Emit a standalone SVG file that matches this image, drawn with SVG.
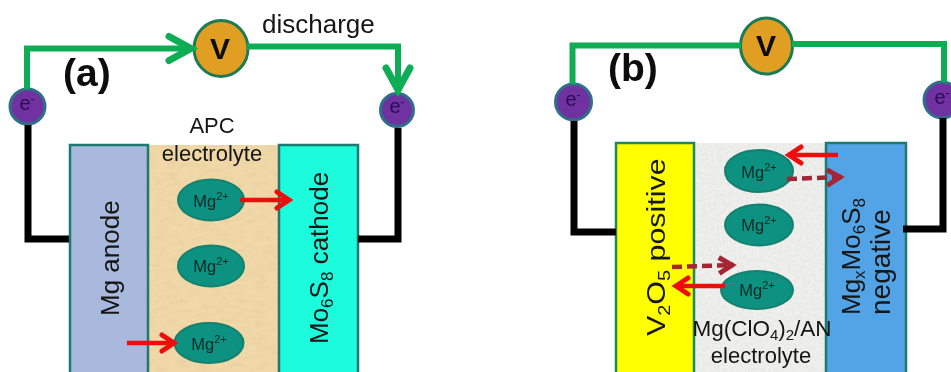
<svg xmlns="http://www.w3.org/2000/svg" width="951" height="372" viewBox="0 0 951 372">
<style>
text{font-family:"Liberation Sans",Arial,sans-serif;fill:#141414}
.pn{stroke:#1f7a70;stroke-width:2.5}
.ion{fill:#0c9180;stroke:#16806f;stroke-width:2}
.ion-t{font-size:16.5px;fill:#062a2a;text-anchor:middle}
.volt{fill:#e09f22;stroke:#1f7a55;stroke-width:3}
.volt-t{font-size:30px;font-weight:bold;fill:#0a0a0a;text-anchor:middle}
.el{fill:#7030a0;stroke:#2f6f8a;stroke-width:3}
.el-t{font-size:20px;fill:#2a0a55;text-anchor:middle}
.lab{font-size:26px}
.lab22{font-size:22px;text-anchor:middle}
.big{font-size:39px;font-weight:bold;fill:#0a0a0a}
.green{fill:none;stroke:#10ad55;stroke-width:6}
.black{fill:none;stroke:#000;stroke-width:7}
.red{fill:none;stroke:#ee1111;stroke-width:4.5}
.dash{fill:none;stroke:#a42636;stroke-width:4.5;stroke-dasharray:10 5}
</style>
<defs>
<filter id="soft" x="0" y="0" width="1" height="1" filterUnits="objectBoundingBox"><feGaussianBlur stdDeviation="0.45"/></filter>
<filter id="paper" x="0" y="0" width="1" height="1">
<feTurbulence type="fractalNoise" baseFrequency="0.09 0.22" numOctaves="3" seed="4" result="n"/>
<feColorMatrix in="n" type="matrix" values="0 0 0 0 0.78 0 0 0 0 0.6 0 0 0 0 0.32 1.3 0 0 0 -0.55" result="c"/>
<feComposite in="c" in2="SourceAlpha" operator="in" result="t"/>
<feMerge><feMergeNode in="SourceGraphic"/><feMergeNode in="t"/></feMerge>
</filter>
<filter id="speck" x="0" y="0" width="1" height="1">
<feTurbulence type="fractalNoise" baseFrequency="0.35" numOctaves="2" seed="9" result="n"/>
<feColorMatrix in="n" type="matrix" values="0 0 0 0 0.72 0 0 0 0 0.72 0 0 0 0 0.72 1.4 0 0 0 -0.6" result="c"/>
<feComposite in="c" in2="SourceAlpha" operator="in" result="t"/>
<feMerge><feMergeNode in="SourceGraphic"/><feMergeNode in="t"/></feMerge>
</filter>
<marker id="gh" markerUnits="userSpaceOnUse" markerWidth="34" markerHeight="34" refX="29" refY="17" orient="auto" overflow="visible">
<path d="M6 5 L28 17 L6 29" fill="none" stroke="#10ad55" stroke-width="7" stroke-linecap="round"/>
</marker>
<marker id="rh" markerUnits="userSpaceOnUse" markerWidth="24" markerHeight="24" refX="18" refY="12" orient="auto" overflow="visible">
<path d="M5 4 L17 12 L5 20" fill="none" stroke="#ee1111" stroke-width="5" stroke-linecap="round"/>
</marker>
<marker id="dh" markerUnits="userSpaceOnUse" markerWidth="24" markerHeight="24" refX="19" refY="12" orient="auto" overflow="visible">
<path d="M4 4 L17 12 L4 20" fill="none" stroke="#a42636" stroke-width="5"/>
</marker>
</defs>
<rect width="951" height="372" fill="#fff"/>
<g id="scene" filter="url(#soft)">
<rect width="951" height="372" fill="#fff"/>
<g id="label-a"><text class="big" x="63" y="86">(a)</text></g>
<g id="label-b"><text class="big" x="608" y="81">(b)</text></g>
<g id="label-discharge"><text x="262" y="33" font-size="26">discharge</text></g>

<g id="a-electrolyte">
<rect x="148" y="145" width="132" height="227" fill="#f0d8a8" filter="url(#paper)"/>
<text class="lab22" x="212" y="133">APC</text>
<text class="lab22" x="212" y="161">electrolyte</text>
</g>
<g id="a-anode">
<rect class="pn" x="70" y="145" width="78" height="229" fill="#a9b9dd"/>
<text class="lab" transform="translate(119,316) rotate(-90)">Mg anode</text>
</g>
<g id="a-cathode">
<rect class="pn" x="279" y="145" width="79" height="229" fill="#1dfbdc"/>
<text class="lab" transform="translate(328,344) rotate(-90)">Mo<tspan font-size="17" dy="5">6</tspan><tspan dy="-5">S</tspan><tspan font-size="17" dy="5">8</tspan><tspan dy="-5"> cathode</tspan></text>
</g>
<g id="a-ion1"><ellipse class="ion" cx="211" cy="200" rx="33" ry="20.5"/><text class="ion-t" x="211" y="207">Mg<tspan font-size="11" dy="-7">2+</tspan></text></g>
<g id="a-ion2"><ellipse class="ion" cx="211" cy="266" rx="33" ry="20.5"/><text class="ion-t" x="211" y="272">Mg<tspan font-size="11" dy="-7">2+</tspan></text></g>
<g id="a-ion3"><ellipse class="ion" cx="209" cy="343" rx="34.500" ry="20"/><text class="ion-t" x="209" y="350">Mg<tspan font-size="11" dy="-7">2+</tspan></text></g>
<g id="a-volt"><ellipse class="volt" cx="221" cy="48.500" rx="27" ry="28"/><text class="volt-t" x="220" y="59">V</text></g>
<g id="a-e-left"><circle class="el" cx="27.500" cy="106.500" r="17.500"/><text class="el-t" x="27" y="110">e<tspan font-size="12" dy="-7">-</tspan></text></g>
<g id="a-e-right"><circle class="el" cx="397" cy="110" r="16.500"/><text class="el-t" x="397" y="113">e<tspan font-size="12" dy="-7">-</tspan></text></g>

<g id="b-electrolyte">
<rect x="694" y="143" width="132" height="229" fill="#efefed" filter="url(#speck)"/>
</g>
<g id="b-positive">
<rect class="pn" x="616" y="143" width="78" height="231" fill="#ffff00" style="stroke:#1f8a5a"/>
<text class="lab" transform="translate(665,336) rotate(-90) scale(1.17,1)">V<tspan font-size="17" dy="5">2</tspan><tspan dy="-5">O</tspan><tspan font-size="17" dy="5">5</tspan><tspan dy="-5"> positive</tspan></text>
</g>
<g id="b-negative">
<rect class="pn" x="826" y="143" width="80" height="231" fill="#52a4e6"/>
<text class="lab" transform="translate(860,315) rotate(-90)">Mg<tspan font-size="17" dy="5">x</tspan><tspan dy="-5">Mo</tspan><tspan font-size="17" dy="5">6</tspan><tspan dy="-5">S</tspan><tspan font-size="17" dy="5">8</tspan></text>
<text transform="translate(890,315) rotate(-90)" font-size="28">negative</text>
</g>
<g id="b-ion1"><ellipse class="ion" cx="759" cy="171" rx="34" ry="21"/><text class="ion-t" x="759" y="178">Mg<tspan font-size="11" dy="-7">2+</tspan></text></g>
<g id="b-ion2"><ellipse class="ion" cx="759" cy="225" rx="34" ry="20.500"/><text class="ion-t" x="759" y="231">Mg<tspan font-size="11" dy="-7">2+</tspan></text></g>
<g id="b-ion3"><ellipse class="ion" cx="757" cy="290" rx="36" ry="19"/><text class="ion-t" x="757" y="296">Mg<tspan font-size="11" dy="-7">2+</tspan></text></g>
<g id="b-electrolyte-label">
<text class="lab22" x="762" y="336" style="font-size:22.5px">Mg(ClO<tspan font-size="15" dy="4">4</tspan><tspan dy="-4">)</tspan><tspan font-size="15" dy="4">2</tspan><tspan dy="-4">/AN</tspan></text>
<text class="lab22" x="761" y="363">electrolyte</text>
</g>
<g id="b-volt"><ellipse class="volt" cx="766.500" cy="46" rx="26" ry="28"/><text class="volt-t" x="766" y="56">V</text></g>
<g id="b-e-left"><circle class="el" cx="573.500" cy="102" r="18"/><text class="el-t" x="573" y="106">e<tspan font-size="12" dy="-7">-</tspan></text></g>
<g id="b-e-right"><circle class="el" cx="942" cy="100" r="18"/><text class="el-t" x="942" y="104">e<tspan font-size="12" dy="-7">-</tspan></text></g>

<g id="connectors">
<path class="green" d="M27 89 L27 48.500 L192 48.500" marker-end="url(#gh)"/>
<path class="green" d="M247 46.500 L398 46.500 L398 91" marker-end="url(#gh)"/>
<path class="green" d="M572.500 84 L572.500 45.500 L741 45.500"/>
<path class="green" d="M792 44 L944 44 L944 82"/>
<path class="black" d="M28 125 L28 239 L69 239"/>
<path class="black" d="M398 128 L398 239 L358 239"/>
<path class="black" d="M574 121 L574 232 L616 232"/>
<path class="black" d="M943 118 L943 229 L903 229"/>
<path class="red" d="M127 343 L175 343" marker-end="url(#rh)"/>
<path class="red" d="M240 200 L290 200" marker-end="url(#rh)"/>
<path class="red" d="M838 155 L788 155" marker-end="url(#rh)"/>
<path class="red" d="M725 286 L675 286" marker-end="url(#rh)"/>
<path class="dash" d="M787 179 L842 177" marker-end="url(#dh)"/>
<path class="dash" d="M672 267 L734 265" marker-end="url(#dh)"/>
</g>
</g>
</svg>
